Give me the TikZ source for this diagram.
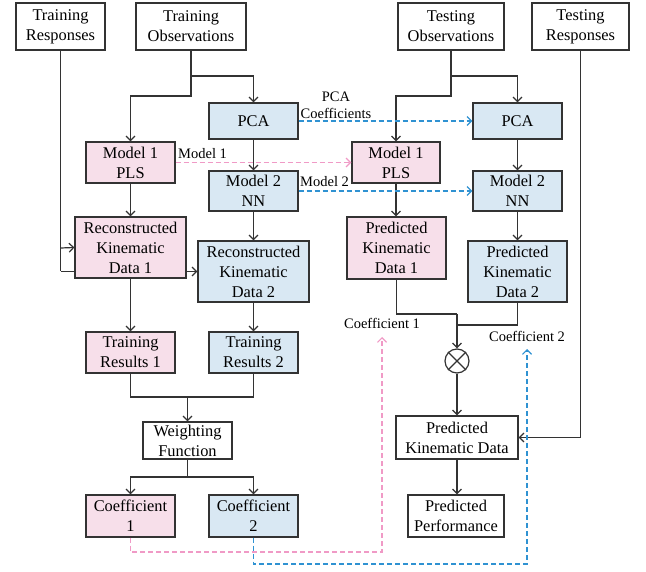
\documentclass[tikz,border=0pt]{standalone}
\usepackage{fontspec}
\setmainfont{Liberation Serif}
\usetikzlibrary{arrows.meta,shapes.misc}
\pgfdeclarelayer{bg}
\pgfsetlayers{bg,main}
\definecolor{pinkfill}{HTML}{F7DFEA}
\definecolor{bluefill}{HTML}{D9E8F3}
\definecolor{pinkdash}{HTML}{F09AC6}
\definecolor{bluedash}{HTML}{2F92D2}
\definecolor{linegray}{HTML}{333333}
\tikzset{
  box/.style={draw=linegray, line width=1.2pt, fill=white, inner sep=0pt, align=center,
    font=\fontsize{16.4}{20}\selectfont},
  pbox/.style={box, fill=pinkfill},
  bbox/.style={box, fill=bluefill},
  conn/.style={draw=linegray, line width=1.2pt, -{Straight Barb[length=4.5pt,width=9pt]}},
  plain/.style={draw=linegray, line width=1.2pt},
  pdash/.style={draw=pinkdash, line width=1.2pt, dash pattern=on 5pt off 3pt, -{Straight Barb[length=4.5pt,width=9pt]}},
  bdash/.style={draw=bluedash, line width=1.2pt, dash pattern=on 5pt off 3pt, -{Straight Barb[length=4.5pt,width=9pt]}},
  lab/.style={inner sep=0pt, align=center, font=\fontsize{14.5}{17}\selectfont},
}
\begin{document}
\begin{tikzpicture}[x=1pt,y=-1pt]
\useasboundingbox (0,0) rectangle (646,572);
% top boxes
\node[box, minimum width=89, minimum height=47] (trresp) at (60.5,26.5) {Training\\Responses};
\node[box, minimum width=110, minimum height=47] (trobs) at (191,26.5) {Training\\Observations};
\node[box, minimum width=106, minimum height=47] (teobs) at (451,26.5) {Testing\\Observations};
\node[box, minimum width=97, minimum height=47] (teresp) at (580.5,26.5) {Testing\\Responses};
% left column
\node[bbox, minimum width=89, minimum height=36] (pcaL) at (253.5,121) {PCA};
\node[pbox, minimum width=89, minimum height=41] (m1L) at (130.5,162.5) {Model 1\\PLS};
\node[bbox, minimum width=89, minimum height=40] (nnL) at (253.5,191) {Model 2\\NN};
\node[bbox, minimum width=111, minimum height=61] (rec2) at (253.5,271.5) {Reconstructed\\Kinematic\\Data 2};
\node[pbox, minimum width=111, minimum height=61] (rec1) at (130.5,247.5) {Reconstructed\\Kinematic\\Data 1};
\node[pbox, minimum width=89, minimum height=41] (tr1) at (130.5,352.5) {Training\\Results 1};
\node[bbox, minimum width=89, minimum height=41] (tr2) at (253.5,352.5) {Training\\Results 2};
\node[box, minimum width=89, minimum height=37] (wf) at (187.5,440.5) {Weighting\\Function};
\node[pbox, minimum width=89, minimum height=42] (c1) at (130.5,516) {Coefficient\\1};
\node[bbox, minimum width=89, minimum height=42] (c2) at (253.5,516) {Coefficient\\2};
% right column
\node[bbox, minimum width=89, minimum height=36] (pcaR) at (517.5,121) {PCA};
\node[pbox, minimum width=88, minimum height=41] (m1R) at (396,162.5) {Model 1\\PLS};
\node[bbox, minimum width=89, minimum height=40] (nnR) at (517.5,191) {Model 2\\NN};
\node[pbox, minimum width=99, minimum height=62] (pkd1) at (396.5,248) {Predicted\\Kinematic\\Data 1};
\node[bbox, minimum width=99, minimum height=61] (pkd2) at (517.5,271.5) {Predicted\\Kinematic\\Data 2};
\node[circle, draw=linegray, line width=1.2pt, minimum size=24, inner sep=0pt] (mul) at (457,361) {};
\draw[linegray, line width=1.2pt] (mul.north east) -- (mul.south west) (mul.north west) -- (mul.south east);
\node[box, minimum width=122, minimum height=43] (pkd) at (457,437.5) {Predicted\\Kinematic Data};
\node[box, minimum width=96, minimum height=42] (pp) at (456,516) {Predicted\\Performance};
% labels
\node[lab, anchor=west] (lm1) at (178,154) {Model 1};
\node[lab] (lpca) at (336,105) {PCA\\Coefficients};
\node[lab, anchor=west] (lm2) at (300,182) {Model 2};
\node[lab] (lc1) at (382,323) {Coefficient 1};
\node[lab] (lc2) at (527,336) {Coefficient 2};
% junction coordinates
\coordinate (j1) at (191,76);
\coordinate (j1b) at (191,96);
\coordinate (j2) at (451,76);
\coordinate (j2b) at (451,96);
\coordinate (r1) at (60.5,248);
\coordinate (r2) at (60.5,271.5);
\coordinate (t1) at (130.5,397);
\coordinate (t2) at (253.5,397);
\coordinate (tj) at (187.5,397);
\coordinate (wj) at (187.5,477);
\coordinate (p1) at (396.5,314);
\coordinate (p2) at (517.5,325);
\coordinate (pj) at (457,314);
\coordinate (pj2) at (457,325);
\coordinate (d1a) at (130.5,552);
\coordinate (d1b) at (382,552);
\coordinate (d1c) at (382,337);
\coordinate (d2a) at (253.5,564);
\coordinate (d2b) at (527,564);
\coordinate (d2c) at (527,349);
% connectors
\draw[plain] (trobs) -- (j1);
\draw[conn] (j1) -| (pcaL);
\draw[conn] (j1) -- (j1b) -| (m1L);
\draw[plain] (teobs) -- (j2);
\draw[conn] (j2) -| (pcaR);
\draw[conn] (j2) -- (j2b) -| (m1R);
\draw[conn] (pcaL) -- (nnL);
\draw[conn] (pcaR) -- (nnR);
\draw[conn] (m1L) -- (rec1);
\draw[conn] (nnL) -- (rec2);
\draw[conn] (m1R) -- (m1R |- pkd1.north);
\draw[conn] (nnR) -- (pkd2);
\begin{pgfonlayer}{bg}
\draw[plain] (trresp) -- (r2);
\draw[conn] (r2) -- (rec2.west);
\end{pgfonlayer}
\draw[conn] (r1) -- (rec1.west);
\draw[conn] (rec1) -- (tr1);
\draw[conn] (rec2) -- (tr2);
\draw[plain] (tr1) -- (t1) -- (t2) -- (tr2);
\draw[conn] (tj) -- (wf);
\draw[plain] (wf) -- (wj);
\draw[conn] (wj) -| (c1);
\draw[conn] (wj) -| (c2);
\draw[plain] (pkd1.south -| p1) -- (p1) -- (pj);
\draw[plain] (pkd2) -- (p2) -- (pj2);
\draw[conn] (pj) -- (mul);
\draw[conn] (mul) -- (pkd);
\draw[conn] (pkd) -- (pp.north -| pkd);
\draw[conn] (teresp) |- (pkd.east);
% dashed
\draw[pdash] (m1L) -- (m1R);
\draw[bdash] (pcaL) -- (pcaR);
\draw[bdash] (nnL) -- (nnR);
\draw[pdash] (c1) -- (d1a) -- (d1b) -- (d1c);
\draw[bdash] (c2) -- (d2a) -- (d2b) -- (d2c);
\end{tikzpicture}
\end{document}
